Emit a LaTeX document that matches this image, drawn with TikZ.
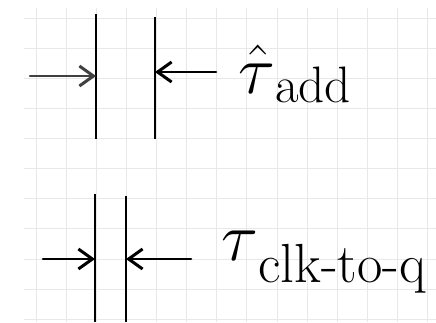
\documentclass[tikz,border=0pt]{standalone}
\usetikzlibrary{arrows.meta,positioning}

\begin{document}
\begin{tikzpicture}[x=1pt,y=-1pt,
        gridline/.style={black!9,line width=0.6pt},
        bar/.style={line width=1.2pt},
        pointer/.style={line width=2.6pt,line cap=round,
          -{Straight Barb[length=14pt,width=20pt,line width=3pt]}},
        tlabel/.style={anchor=base west,inner sep=0pt,font=\Huge,scale=1.9}]
        \useasboundingbox (0,0) rectangle (436,322);
        \fill[white] (0,0) rectangle (436,322);
        % grid paper
        \foreach \y in {18,48.1,...,322} \draw[gridline] (24,\y) -- (436,\y);
        \foreach \x in {36,66.1,...,436} \draw[gridline] (\x,8) -- (\x,322);
        % tau add
        \coordinate (addLtop) at (96,14);
        \coordinate (addLbot) at (96,139);
        \coordinate (addRtop) at (155,17);
        \coordinate (addRbot) at (155,139);
        \draw[bar] (addLtop) -- (addLbot);
        \draw[bar] (addRtop) -- (addRbot);
        \coordinate (addIn) at (30,76);
        \coordinate (addOut) at (216,72);
        \draw[pointer,black!75] (addIn) -- (addLtop |- addIn);
        \draw[pointer] (addOut) -- (addRtop |- addOut);
        \node[tlabel] (tauadd) at (238,93)
          {\scalebox{1.45}{$\hat{\tau}$}\raisebox{-5pt}{\fontsize{27}{27}\selectfont add}};
        % tau clk-to-q
        \coordinate (clkLtop) at (95,194);
        \coordinate (clkLbot) at (95,322);
        \coordinate (clkRtop) at (126,196);
        \coordinate (clkRbot) at (126,322);
        \draw[bar] (clkLtop) -- (clkLbot);
        \draw[bar] (clkRtop) -- (clkRbot);
        \coordinate (clkIn) at (43,259);
        \coordinate (clkOut) at (191,259);
        \draw[pointer] (clkIn) -- (clkLtop |- clkIn);
        \draw[pointer] (clkOut) -- (clkRtop |- clkOut);
        \node[tlabel] (tauclk) at (221,260)
          {\scalebox{1.45}{$\tau$}\raisebox{-12pt}{\fontsize{29}{29}\selectfont clk-to-q}};
\end{tikzpicture}
\end{document}
